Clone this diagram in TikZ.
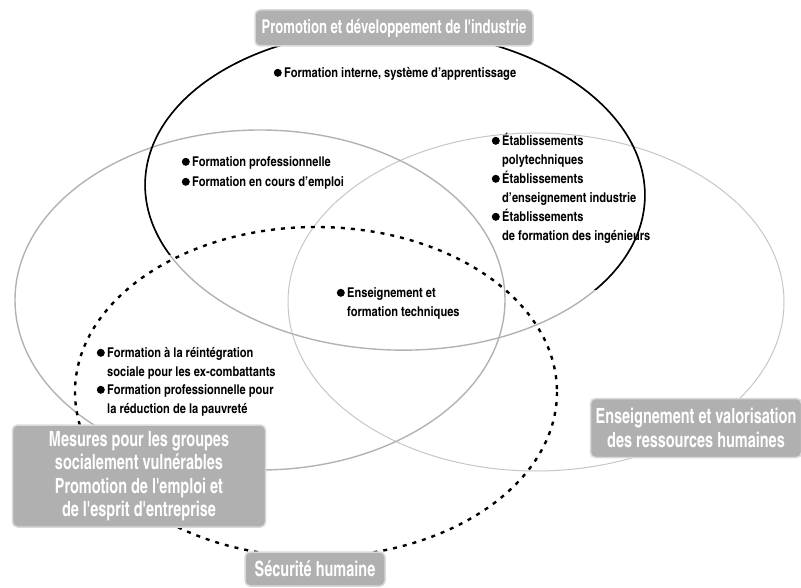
\documentclass[tikz,border=0pt]{standalone}
\usepackage{fontspec}
\setmainfont{texgyreheroscn-regular.otf}[BoldFont=texgyreheroscn-bold.otf]
\newfontfamily\boxfont{texgyreheroscn-bold.otf}[FakeStretch=0.84]
\usetikzlibrary{positioning}
\tikzset{
	item/.style={anchor=north west, align=left, inner sep=0pt, font=\bfseries\fontsize{13.5}{19}\selectfont},
	dot/.style={circle, fill, inner sep=0pt, minimum size=8pt},
	titlebox/.style={fill=gray!62, draw=gray!30, line width=1.5pt, rounded corners=5pt, text=white,
			align=center, inner sep=2pt, font=\boxfont\fontsize{21}{23.5}\selectfont}
}

\begin{document}
\begin{tikzpicture}[x=1pt,y=-1pt]
	\useasboundingbox (0,0) rectangle (801,588);
	\draw[gray!45, line width=1pt] (536,302) ellipse [x radius=248, y radius=169];
	\draw[gray!60, line width=1.4pt] (260,300) ellipse [x radius=245, y radius=170];
	\draw[gray!60, line width=1.4pt] (395,190) ellipse [x radius=250, y radius=160, rotate=-2];
	\begin{scope}
		\clip (0,0) -- (801,0) -- (801,290) -- (560,290) -- (200,255) -- (0,255) -- cycle;
		\draw[black, line width=1.6pt] (395,190) ellipse [x radius=250, y radius=160, rotate=-2];
	\end{scope}
	\draw[black, line width=2.4pt, dash pattern=on 4pt off 6pt] (316,392) ellipse [x radius=241, y radius=165];

	\node[item] (t1) at (284,64) {\strut Formation interne, système d'apprentissage};
	\node[item] (t2) at (192,153) {\strut Formation professionnelle};
	\node[item] (t3) at (192,173) {\strut Formation en cours d'emploi};
	\node[item] (t4) at (502,132) {\strut Établissements\\polytechniques};
	\node[item] (t5) at (502,170) {\strut Établissements\\d'enseignement industrie};
	\node[item] (t6) at (502,208) {\strut Établissements\\de formation des ingénieurs};
	\node[item] (t7) at (347,284) {\strut Enseignement et\\formation techniques};
	\node[item] (t8) at (107,344) {\strut Formation à la réintégration\\sociale pour les ex-combattants};
	\node[item] (t9) at (107,381) {\strut Formation professionnelle pour\\la réduction de la pauvreté};
	\foreach \t in {t1,t2,t3,t4,t5,t6,t7,t8,t9}
		\node[dot, left=2pt of \t.north west, yshift=-8.8pt] (d\t) {};

	\node[titlebox, minimum width=278pt, minimum height=36pt, font=\boxfont\fontsize{19}{23}\selectfont] (industrie) at (394,28) {Promotion et développement de l'industrie};
	\node[titlebox, minimum width=253pt, minimum height=102pt] (mesures) at (139,476) {Mesures pour les groupes\\socialement vulnérables\\Promotion de l'emploi et\\de l'esprit d'entreprise};
	\node[titlebox, minimum width=211pt, minimum height=59pt] (ressources) at (696,428) {Enseignement et valorisation\\des ressources humaines};
	\node[titlebox, minimum width=140pt, minimum height=34pt] (securite) at (315,569) {Sécurité humaine};
\end{tikzpicture}
\end{document}
